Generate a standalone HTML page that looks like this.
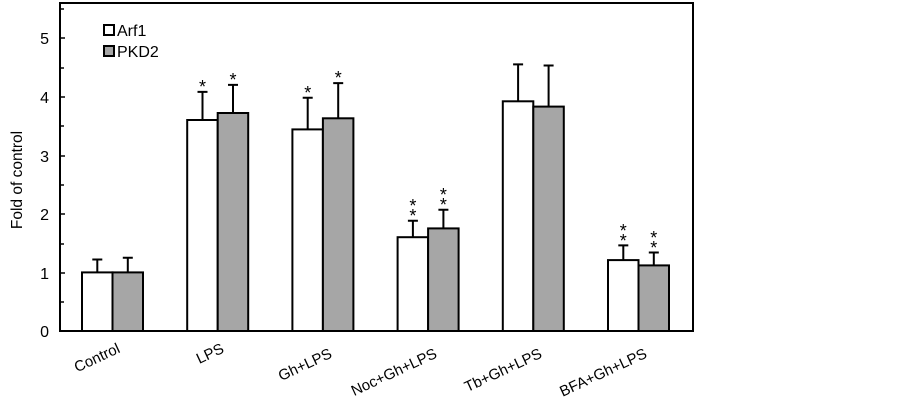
<!DOCTYPE html>
<html><head><style>body{margin:0;background:#fff}svg{display:block}</style></head><body>
<svg width="903" height="402" xmlns="http://www.w3.org/2000/svg" font-family="Liberation Sans, Arial, sans-serif">
<rect x="0" y="0" width="903" height="402" fill="#fff"/>
<g stroke="#000" stroke-width="1.5">
<line x1="60" y1="302" x2="64" y2="302"/><line x1="60" y1="273" x2="65" y2="273"/>
<line x1="60" y1="244" x2="64" y2="244"/><line x1="60" y1="214" x2="65" y2="214"/>
<line x1="60" y1="185" x2="64" y2="185"/><line x1="60" y1="156" x2="65" y2="156"/>
<line x1="60" y1="126" x2="64" y2="126"/><line x1="60" y1="97" x2="65" y2="97"/>
<line x1="60" y1="68" x2="64" y2="68"/><line x1="60" y1="38" x2="65" y2="38"/>
<line x1="60" y1="9" x2="64" y2="9"/>
</g>
<g font-size="16" text-anchor="end" fill="#000">
<text x="49" y="337">0</text><text x="49" y="279">1</text><text x="49" y="220">2</text>
<text x="49" y="162">3</text><text x="49" y="103">4</text><text x="49" y="44">5</text>
</g>
<text transform="translate(22,180) rotate(-90)" font-size="15.5" text-anchor="middle">Fold of control</text>
<rect x="104" y="25" width="10" height="10" fill="#fff" stroke="#000" stroke-width="2"/>
<text x="117" y="36" font-size="16">Arf1</text>
<rect x="104" y="46" width="10" height="10" fill="#a6a6a6" stroke="#000" stroke-width="2"/>
<text x="117" y="57" font-size="16">PKD2</text>

<g stroke="#000" stroke-width="2">
<path d="M97.3 272V259.5M92.3 259.5H102.3 M127.8 272V257.8M122.8 257.8H132.8
M202.5 120V91.9M197.5 91.9H207.5 M233 113V84.9M228 84.9H238
M307.7 129V97.8M302.7 97.8H312.7 M338.2 118V83.1M333.2 83.1H343.2
M412.9 237V220.8M407.9 220.8H417.9 M443.4 228V209.7M438.4 209.7H448.4
M518.1 101V64.4M513.1 64.4H523.1 M548.6 106V65.5M543.6 65.5H553.6
M623.3 260V245.4M618.3 245.4H628.3 M653.8 265V252.5M648.8 252.5H658.8" fill="none"/>
<rect x="82" y="272.4" width="30.5" height="58.6" fill="#fff"/>
<rect x="112.5" y="272.4" width="30.5" height="58.6" fill="#a6a6a6"/>
<rect x="187.2" y="120" width="30.5" height="211" fill="#fff"/>
<rect x="217.7" y="113" width="30.5" height="218" fill="#a6a6a6"/>
<rect x="292.4" y="129.4" width="30.5" height="201.6" fill="#fff"/>
<rect x="322.9" y="118.3" width="30.5" height="212.7" fill="#a6a6a6"/>
<rect x="397.6" y="237.2" width="30.5" height="93.8" fill="#fff"/>
<rect x="428.1" y="228.4" width="30.5" height="102.6" fill="#a6a6a6"/>
<rect x="502.8" y="101.3" width="30.5" height="229.7" fill="#fff"/>
<rect x="533.3" y="106.6" width="30.5" height="224.4" fill="#a6a6a6"/>
<rect x="608" y="260.1" width="30.5" height="70.9" fill="#fff"/>
<rect x="638.5" y="265.4" width="30.5" height="65.6" fill="#a6a6a6"/>
<rect x="60" y="3" width="633" height="328" fill="none"/>
</g>
<g font-size="18" text-anchor="middle">
<text x="202.5" y="93">*</text><text x="233" y="86">*</text>
<text x="307.7" y="99">*</text><text x="338.2" y="84">*</text>
<text x="412.9" y="212">*</text><text x="412.9" y="222">*</text>
<text x="443.4" y="201">*</text><text x="443.4" y="211">*</text>
<text x="623.3" y="237">*</text><text x="623.3" y="247">*</text>
<text x="653.8" y="244">*</text><text x="653.8" y="254">*</text>
</g>
<g font-size="15" text-anchor="end">
<text transform="translate(121,352) rotate(-25)">Control</text>
<text transform="translate(225,352) rotate(-25)">LPS</text>
<text transform="translate(333,357) rotate(-25)">Gh+LPS</text>
<text transform="translate(438,357) rotate(-25)">Noc+Gh+LPS</text>
<text transform="translate(543,357) rotate(-25)">Tb+Gh+LPS</text>
<text transform="translate(648,357) rotate(-25)">BFA+Gh+LPS</text>
</g>
</svg>
</body></html>
